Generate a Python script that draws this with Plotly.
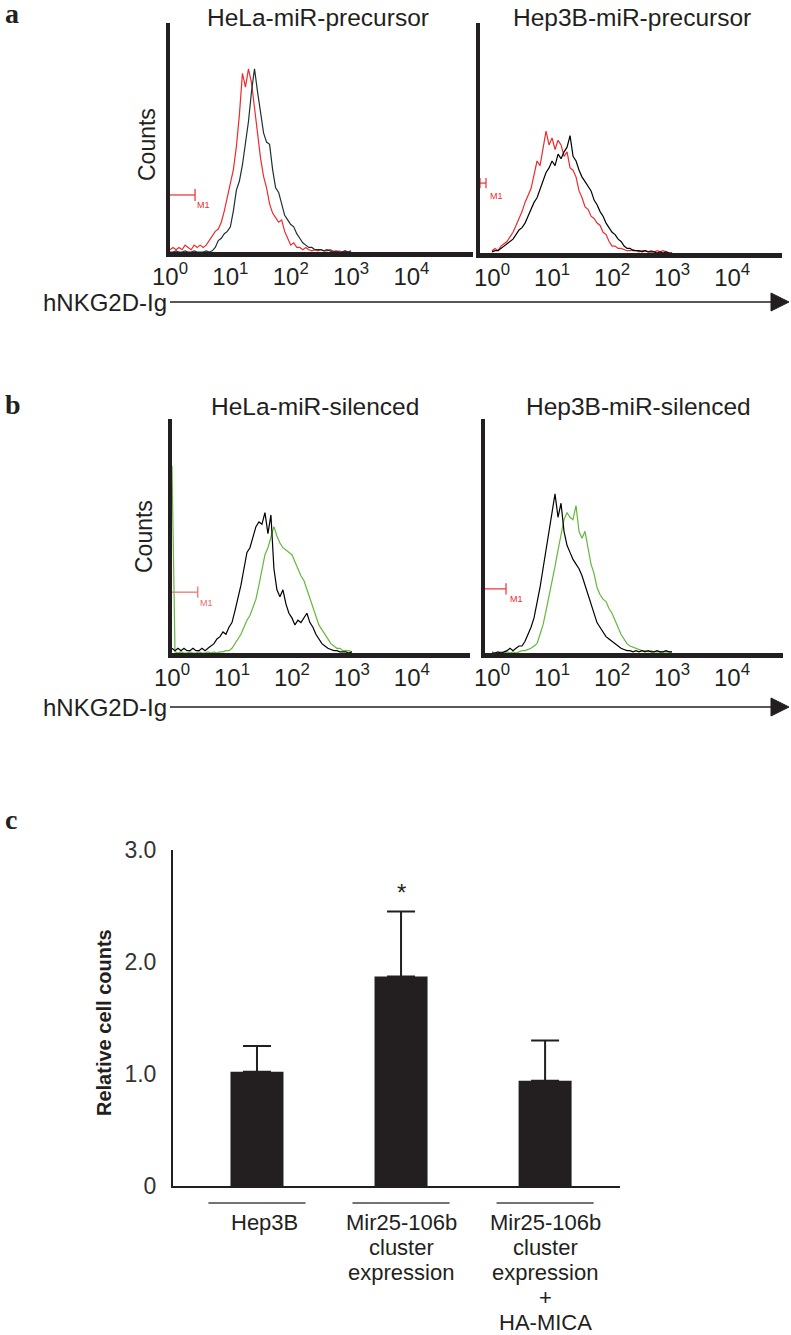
import plotly.graph_objects as go

W, H = 791, 1335

# ---------------- data: flow-cytometry histograms (x = log10 fluorescence, y = % of axis height)
DECADES = [0.00, 0.05, 0.10, 0.15, 0.20, 0.25, 0.30, 0.35, 0.40, 0.45,
           0.50, 0.55, 0.60, 0.65, 0.70, 0.75, 0.80, 0.85, 0.90, 0.95,
           1.00, 1.05, 1.10, 1.15, 1.20, 1.25, 1.30, 1.35, 1.40, 1.45,
           1.50, 1.55, 1.60, 1.65, 1.70, 1.75, 1.80, 1.85, 1.90, 1.95,
           2.00, 2.05, 2.10, 2.15, 2.20, 2.25, 2.30, 2.35, 2.40, 2.45,
           2.50, 2.55, 2.60, 2.65, 2.70, 2.75, 2.80, 2.85, 2.90, 2.95,
           3.00]

HELA_PRE_RED = [1, 2, 1, 2, 1, 3, 2, 1, 3, 2,
                3, 2, 3, 5, 7, 9, 10, 13, 18, 24,
                29, 36, 46, 60, 78, 72, 80, 74, 63, 51,
                41, 33, 28, 21, 17, 15, 13, 14, 9, 6,
                3, 4, 2, 2, 1, 2, 1, 0.5, 1, 0.5,
                1, 0.5, 0.5, 1, 0.5, 0, 0.5, 0, 0.5, 0,
                0]
HELA_PRE_BLACK = [0, 0, 0.5, 0, 0, 0.5, 0, 0, 0.5, 0,
                  0, 0, 0.5, 0, 0.5, 2, 5, 6, 8, 9,
                  11, 18, 27, 31, 38, 47, 57, 70, 80, 70,
                  62, 52, 48, 47, 36, 28, 26, 21, 16, 14,
                  12, 11, 8, 6, 4, 3, 2, 2, 1, 1,
                  1, 0.5, 1, 0.5, 0, 0.5, 0, 0, 0.5, 0,
                  0.5]
HEP3B_PRE_RED = [1, 2, 1, 3, 4, 5, 7, 9, 12, 15,
                 18, 22, 25, 28, 34, 40, 38, 45, 53, 47,
                 50, 45, 49, 47, 42, 44, 37, 36, 33, 27,
                 24, 20, 19, 16, 15, 13, 12, 9, 8, 5,
                 3, 3, 2, 2, 1.5, 1, 1, 1.5, 1, 0.5,
                 1, 1, 0.5, 1, 0.5, 1, 0.5, 1, 0.5, 0,
                 0]
HEP3B_PRE_BLACK = [0.5, 1, 1, 2, 3, 4, 5, 6, 8, 10,
                   11, 13, 16, 19, 22, 24, 28, 32, 35, 37,
                   40, 38, 43, 41, 44, 46, 51, 42, 40, 36,
                   33, 31, 29, 27, 23, 21, 18, 16, 13, 11,
                   9, 8, 6, 5, 3, 2, 2, 1, 1, 1,
                   0.5, 1, 0.5, 0.5, 0.5, 0, 0.5, 0, 0.5, 0,
                   0]
HELA_SIL_BLACK = [2, 1, 2, 1, 2, 1, 1, 2, 1, 1,
                  2, 1, 2, 3, 4, 6, 7, 9, 8, 11,
                  13, 18, 23, 29, 36, 43, 45, 49, 54, 56,
                  55, 60, 51, 59, 36, 27, 24, 27, 21, 17,
                  15, 12, 14, 13, 15, 17, 13, 11, 8, 6,
                  4, 3, 2, 1.5, 1, 1, 0.5, 0.5, 0.5, 0,
                  0.5]
HELA_SIL_GREEN = [80, 0.5, 0, 0.5, 0, 0, 0.5, 0, 0, 0.5,
                  0, 0, 0.5, 0, 0.5, 0, 0.5, 0.5, 1, 1,
                  2, 4, 6, 8, 11, 14, 16, 20, 23, 29,
                  35, 42, 45, 49, 54, 50, 47, 45, 44, 43,
                  42, 39, 36, 33, 31, 27, 24, 20, 16, 12,
                  10, 8, 6, 4, 3, 2, 2, 1, 1, 1,
                  0.5]
HEP3B_SIL_BLACK = [0, 0, 0.5, 0, 0.5, 1, 2, 1, 2, 3,
                   3, 5, 8, 11, 15, 21, 28, 36, 44, 52,
                   62, 68, 58, 64, 52, 46, 43, 40, 38, 36,
                   33, 29, 25, 21, 17, 13, 11, 9, 7, 6,
                   5, 4, 3, 2, 1.5, 1, 1, 0.5, 1, 0.5,
                   1, 0.5, 1, 0.5, 0.5, 1, 0.5, 0.5, 1, 0.5,
                   0.5]
HEP3B_SIL_GREEN = [0.5, 0, 0, 0.5, 0, 0.5, 0, 0.5, 0, 0.5,
                   1, 1, 1.5, 2, 3, 4, 8, 12, 18, 24,
                   31, 37, 44, 50, 57, 60, 58, 57, 63, 52,
                   49, 52, 44, 38, 34, 28, 25, 23, 22, 19,
                   17, 14, 11, 8, 6, 4, 3, 2.5, 2, 1.5,
                   1, 1, 0.5, 1, 0.5, 0.5, 0.5, 0.5, 0.5, 0.5,
                   0.5]

HIST_TITLES = ["HeLa-miR-precursor", "Hep3B-miR-precursor",
               "HeLa-miR-silenced", "Hep3B-miR-silenced"]
TICK_DECADES = [0, 1, 2, 3, 4]
TICK_TEXT = ["10<sup>0</sup>", "10<sup>1</sup>", "10<sup>2</sup>",
             "10<sup>3</sup>", "10<sup>4</sup>"]

# ---------------- data: bar chart (panel c)
BAR_CATEGORIES = ["Hep3B", "Mir25-106b cluster expression",
                  "Mir25-106b cluster expression + HA-MICA"]
BAR_LABEL_LINES = [["Hep3B"],
                   ["Mir25-106b", "cluster", "expression"],
                   ["Mir25-106b", "cluster", "expression", "+", "HA-MICA"]]
BAR_VALUES = [1.02, 1.87, 0.94]
BAR_ERRORS = [0.23, 0.58, 0.36]
BAR_Y_TICKS = [0, 1, 2, 3]
BAR_Y_TICKTEXT = ["0", "1.0", "2.0", "3.0"]

# ---------------- styles
INK = "#231f20"
RED = "#ee2a2e"
PINK = "#f06a6a"
GREEN = "#63b83a"
TEAL = "#1d3030"
SANS = "Liberation Sans, Arial, sans-serif"
NARROW = "Liberation Sans Narrow, Arial Narrow, Liberation Sans, sans-serif"
SERIF = "Liberation Serif, Times New Roman, serif"


def fx(px):
    return px / W


def fy(py):
    return 1 - py / H


fig = go.Figure()

series = [
    (1, [(HELA_PRE_RED, RED), (HELA_PRE_BLACK, TEAL)]),
    (2, [(HEP3B_PRE_RED, RED), (HEP3B_PRE_BLACK, "#000000")]),
    (3, [(HELA_SIL_GREEN, GREEN), (HELA_SIL_BLACK, "#000000")]),
    (4, [(HEP3B_SIL_GREEN, GREEN), (HEP3B_SIL_BLACK, "#000000")]),
]
for i, curves in series:
    for vals, col in curves:
        fig.add_trace(go.Scatter(x=DECADES, y=vals, mode="lines",
                                 line=dict(color=col, width=1.2),
                                 xaxis=f"x{i}", yaxis=f"y{i}",
                                 hoverinfo="skip"))

fig.add_trace(go.Bar(x=BAR_CATEGORIES, y=BAR_VALUES, width=0.368,
                     marker=dict(color=INK, line=dict(width=0)),
                     error_y=dict(type="data", array=BAR_ERRORS,
                                  arrayminus=[0] * len(BAR_ERRORS),
                                  symmetric=False, color=INK,
                                  thickness=2, width=14),
                     xaxis="x5", yaxis="y5"))

layout = dict(template="none", width=W, height=H,
              margin=dict(l=0, r=0, t=0, b=0, pad=0, autoexpand=False),
              paper_bgcolor="white", plot_bgcolor="rgba(0,0,0,0)",
              showlegend=False)

# histogram axes: (x px span, y px span, x range)
HIST_BOXES = [((170, 473), (23, 252), [0, 5.02]),
              ((480, 782), (23, 253), [-0.2, 4.83]),
              ((172, 470), (419, 653), [0, 4.97]),
              ((485, 783), (419, 653), [-0.117, 4.85])]
for k, ((x0, x1), (y0, y1), xr) in enumerate(HIST_BOXES, start=1):
    layout[f"xaxis{k}"] = dict(domain=[fx(x0), fx(x1)], anchor=f"y{k}",
                               range=xr, showline=True, linewidth=4.5,
                               linecolor=INK, showgrid=False, zeroline=False,
                               automargin=False,
                               ticks="", tickvals=TICK_DECADES,
                               ticktext=TICK_TEXT, ticklabelstandoff=-1,
                               tickfont=dict(family=NARROW, size=24, color=INK))
    layout[f"yaxis{k}"] = dict(domain=[fy(y1), fy(y0)], anchor=f"x{k}",
                               range=[0, 100], showline=True, linewidth=3.5,
                               linecolor=INK, showgrid=False, zeroline=False,
                               automargin=False,
                               ticks="", showticklabels=False)

layout["xaxis5"] = dict(domain=[fx(173), fx(620)], anchor="y5",
                        type="category", categoryorder="array",
                        categoryarray=BAR_CATEGORIES, range=[-0.583, 2.52],
                        showline=True, linewidth=2, linecolor=INK,
                        showgrid=False, zeroline=False, ticks="",
                        automargin=False, showticklabels=False)
layout["yaxis5"] = dict(domain=[fy(1186), fy(850)], anchor="x5",
                        range=[0, 3], showline=True, linewidth=2,
                        linecolor=INK, showgrid=False, zeroline=False,
                        automargin=False,
                        ticks="", tickvals=BAR_Y_TICKS,
                        ticktext=BAR_Y_TICKTEXT, ticklabelstandoff=10,
                        tickfont=dict(family=SANS, size=23, color="#333333"))

ann = []
# panel letters
for letter, yy in [("a", 13), ("b", 404), ("c", 819)]:
    ann.append(dict(text=letter, x=fx(3), y=fy(yy), xref="paper", yref="paper",
                    xanchor="left", yanchor="middle", showarrow=False,
                    font=dict(family=SERIF, size=28, color=INK, weight="bold")))
# panel titles
for t, (cx, cy) in zip(HIST_TITLES, [(318, 17), (632, 17), (315, 406), (638, 406)]):
    ann.append(dict(text=t, x=fx(cx), y=fy(cy), xref="paper", yref="paper",
                    xanchor="center", yanchor="middle", showarrow=False,
                    font=dict(family=SANS, size=24.5, color=INK)))
# Counts labels
for cx, cy in [(147, 145), (144, 537)]:
    ann.append(dict(text="Counts", x=fx(cx), y=fy(cy), xref="paper", yref="paper",
                    xanchor="center", yanchor="middle", textangle=-90,
                    showarrow=False, font=dict(family=SANS, size=23, color=INK)))
# x axis labels with arrows
shapes = []
for ay in [302, 707]:
    ann.append(dict(text="hNKG2D-Ig", x=fx(169), y=fy(ay), xref="paper",
                    yref="paper", xanchor="right", yanchor="middle",
                    showarrow=False, font=dict(family=SANS, size=24, color=INK)))
    shapes.append(dict(type="line", xref="paper", yref="paper",
                       x0=fx(170), x1=fx(776), y0=fy(ay), y1=fy(ay),
                       line=dict(color=INK, width=1.6)))
    shapes.append(dict(type="path", xref="paper", yref="paper",
                       path=f"M {fx(771)},{fy(ay - 9)} L {fx(789)},{fy(ay)} "
                            f"L {fx(771)},{fy(ay + 9)} Z",
                       fillcolor=INK, line=dict(color=INK, width=1)))

# M1 gate markers (x in decades, y in % of axis height)
M1 = [(1, RED, 0.0, 0.415, 24.9, 2.6, 0.56, 20.5),
      (2, RED, -0.2, -0.1, 30.4, 2.2, 0.08, 25.0),
      (3, PINK, 0.0, 0.43, 26.0, 2.4, 0.57, 21.5),
      (4, RED, -0.117, 0.233, 27.4, 2.4, 0.40, 23.0)]
for k, col, xa, xb, yv, dy, tx, ty in M1:
    shapes.append(dict(type="line", xref=f"x{k}", yref=f"y{k}", x0=xa, x1=xb,
                       y0=yv, y1=yv, line=dict(color=col, width=1.2)))
    shapes.append(dict(type="line", xref=f"x{k}", yref=f"y{k}", x0=xb, x1=xb,
                       y0=yv - dy, y1=yv + dy, line=dict(color=col, width=1.2)))
    if k == 2:
        shapes.append(dict(type="line", xref=f"x{k}", yref=f"y{k}", x0=xa, x1=xa,
                           y0=yv - dy, y1=yv + dy, line=dict(color=col, width=1.2)))
    ann.append(dict(text="M1", x=tx, y=ty, xref=f"x{k}", yref=f"y{k}",
                    xanchor="center", yanchor="middle", showarrow=False,
                    font=dict(family=SANS, size=9, color=col)))

# panel c labels
ann.append(dict(text="Relative cell counts", x=fx(104), y=fy(1022),
                xref="paper", yref="paper", xanchor="center", yanchor="middle",
                textangle=-90, showarrow=False,
                font=dict(family=SANS, size=20, color=INK, weight="bold")))
ann.append(dict(text="*", x=1, y=fy(893), xref="x5", yref="paper",
                xanchor="center", yanchor="middle", showarrow=False,
                font=dict(family=SANS, size=24, color=INK)))
LINE_STEP = 25
for i, lines in enumerate(BAR_LABEL_LINES):
    for j, line in enumerate(lines):
        ann.append(dict(text=line, x=i, y=fy(1222 + LINE_STEP * j), xref="x5",
                        yref="paper", xanchor="center", yanchor="middle",
                        showarrow=False, xshift=8 if i == 0 else 0,
                        font=dict(family=SANS, size=22, color=INK)))
    shapes.append(dict(type="line", xref="x5", yref="paper",
                       x0=i - 0.337, x1=i + 0.337, y0=fy(1203), y1=fy(1203),
                       line=dict(color="#444444", width=1.6)))

layout["annotations"] = ann
layout["shapes"] = shapes
fig.update_layout(**layout)
fig.write_html("out.html", config={"displayModeBar": False},
               post_script="document.body.style.margin='0px';")
